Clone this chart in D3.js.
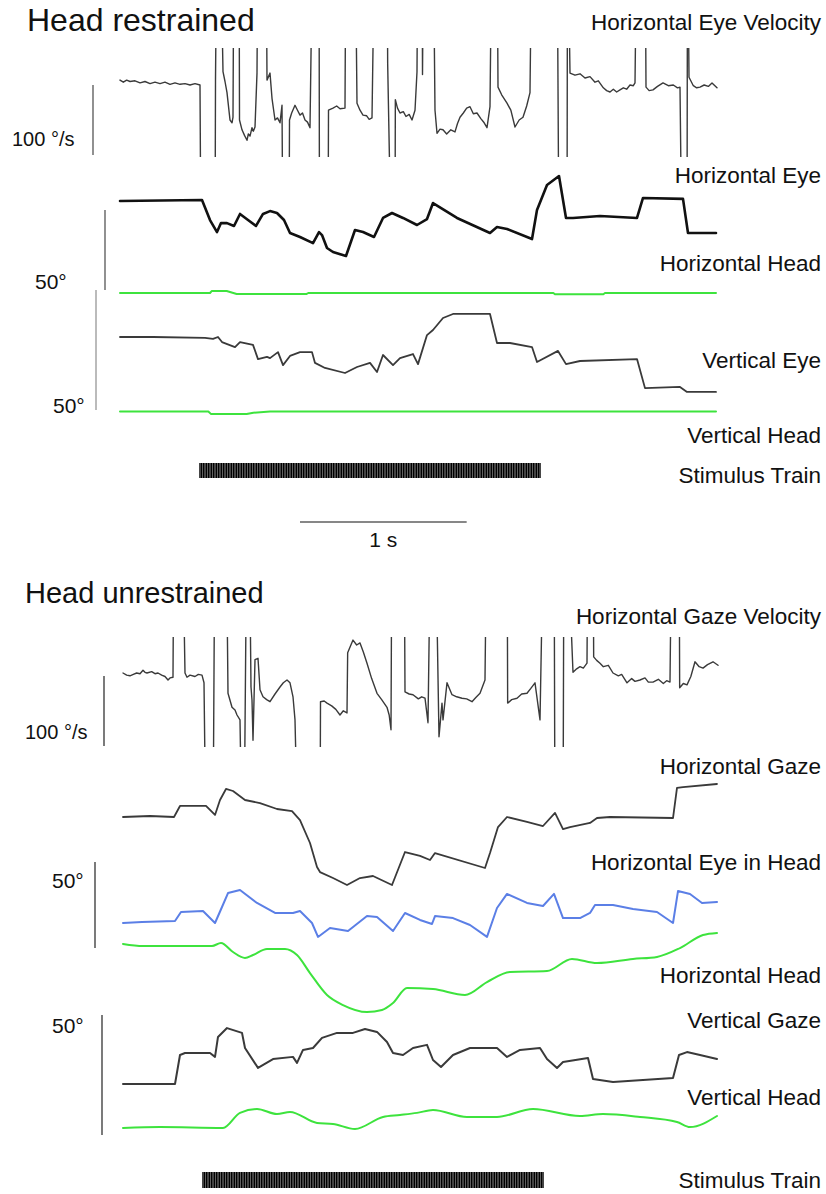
<!DOCTYPE html>
<html><head><meta charset="utf-8">
<script src="https://cdn.jsdelivr.net/npm/d3@7"></script>
<style>
body{margin:0;background:#fff}
svg{display:block}
text{font-family:"Liberation Sans",Arial,Helvetica,sans-serif;fill:#111}
</style>
</head><body>
<script>
// ---- Recorded traces: [time (ms), value] ----
// Head restrained
const hEyeVelRestrained = [[0,7],[20,4],[40,7],[60,5],[90,6],[120,3],[150,5],[180,2],[210,4],[240,2],[270,4],[300,1],[330,3],[360,1],[390,2],[420,0],[450,2],[480,0],[486,-250],[570,-250],[573,7],[582,250],[600,250],[618,19],[630,5],[642,-11],[660,-50],[672,-54],[678,-46],[684,250],[714,250],[717,-50],[732,-64],[747,-72],[762,-79],[770,-70],[780,-73],[792,-61],[800,-66],[810,-60],[822,17],[828,250],[876,250],[882,7],[900,17],[912,-19],[930,-50],[945,-47],[960,-54],[972,-29],[978,-250],[1014,-250],[1017,-50],[1030,-40],[1050,-29],[1065,-36],[1080,-43],[1095,-40],[1110,-50],[1125,-53],[1140,-61],[1158,250],[1194,250],[1197,-250],[1248,-250],[1251,-36],[1278,-33],[1300,-30],[1320,-34],[1350,-33],[1356,250],[1410,250],[1422,-26],[1440,-36],[1458,-43],[1480,-44],[1495,-49],[1512,-47],[1530,250],[1602,250],[1606,31],[1628,-250],[1650,-250],[1652,-21],[1665,-33],[1680,-40],[1700,-38],[1716,-45],[1735,-42],[1752,-50],[1770,-36],[1782,19],[1788,250],[1812,250],[1815,15],[1822,250],[1878,250],[1890,-36],[1902,-69],[1920,-63],[1938,-64],[1960,-70],[1985,-64],[2010,-67],[2025,-55],[2040,-46],[2060,-40],[2080,-33],[2100,-31],[2120,-41],[2142,-40],[2165,-48],[2185,-54],[2202,-61],[2220,-31],[2232,250],[2262,250],[2268,-3],[2290,-14],[2322,-26],[2345,-36],[2370,-60],[2395,-50],[2418,-46],[2440,-30],[2460,-11],[2472,250],[2622,250],[2634,-250],[2682,-250],[2685,250],[2700,17],[2730,14],[2760,16],[2790,10],[2820,12],[2850,4],[2870,6],[2900,-4],[2920,-8],[2940,-10],[2960,-6],[2980,-10],[3000,-7],[3020,-4],[3040,-6],[3060,0],[3080,-1],[3090,3],[3102,250],[3150,250],[3156,-3],[3175,-8],[3198,-7],[3225,-2],[3258,3],[3290,-1],[3320,0],[3345,-4],[3360,-3],[3372,-250],[3402,-250],[3405,250],[3414,11],[3440,-1],[3460,-4],[3480,-3],[3505,0],[3530,-2],[3552,3],[3582,-4]];
const hEyeRestrained = [[0,0],[492,0.6],[540,-11.9],[582,-19.4],[606,-13.8],[642,-13.8],[684,-15.6],[720,-8.1],[768,-11.9],[816,-15.6],[858,-8.1],[900,-6.3],[942,-7.5],[984,-11.9],[1020,-20],[1080,-22.5],[1158,-26.3],[1194,-19.4],[1212,-21.3],[1242,-29.4],[1278,-31.9],[1356,-34.4],[1410,-18.1],[1458,-19.4],[1524,-22.5],[1578,-10.6],[1632,-7.5],[1698,-10.6],[1782,-15],[1842,-11.3],[1878,-1.3],[2022,-10.6],[2220,-20],[2262,-16.3],[2322,-17.5],[2472,-23.8],[2502,-5.6],[2562,10],[2634,15.6],[2676,-10.6],[2718,-10.6],[2880,-9.4],[3102,-10.6],[3138,1.9],[3378,1.3],[3408,-20],[3576,-20]];
const hHeadRestrained = [[0,0],[540,0],[550,1.2],[640,1.2],[700,-0.6],[1120,-0.6],[1130,0],[2600,0],[2610,-0.8],[2900,-0.8],[2910,0],[3576,0]];
const vEyeRestrained = [[0,0],[198,0],[510,-0.4],[558,-0.8],[588,0],[612,-2.1],[690,-4.2],[720,-2.1],[798,-3.3],[828,-9.2],[882,-8.3],[900,-8.8],[948,-6.3],[978,-11.7],[1020,-7.9],[1080,-6.3],[1152,-6.3],[1170,-10.8],[1230,-12.9],[1350,-15],[1422,-12.5],[1500,-10.8],[1542,-14.6],[1578,-7.5],[1638,-11.7],[1680,-8.8],[1758,-7.1],[1788,-11.3],[1842,0.8],[1878,2.9],[1938,7.9],[1998,9.6],[2220,9.6],[2262,-2.5],[2340,-2.5],[2472,-4.2],[2502,-10.4],[2628,-5.8],[2676,-11.3],[2760,-10],[3102,-9.2],[3150,-21.3],[3360,-20.8],[3402,-22.9],[3576,-22.9]];
const vHeadRestrained = [[0,0],[530,0],[545,-1],[760,-1],[800,-0.5],[900,0],[3576,0]];

// Head unrestrained
const hGazeVelUnrestrained = [[18,0],[40,-3],[60,-4],[80,-2],[100,0],[120,-1],[138,4],[150,1],[162,0],[190,2],[210,-1],[228,0],[250,-3],[270,-5],[288,-10],[300,-7],[318,-6],[324,250],[372,250],[390,0],[402,-6],[420,-3],[450,-5],[470,-2],[492,-3],[504,-14],[516,-250],[558,-250],[570,250],[636,250],[648,-29],[672,-49],[690,-53],[702,-60],[720,-67],[732,-250],[744,-250],[762,250],[774,250],[786,-20],[792,-39],[798,-96],[810,19],[828,21],[840,-24],[858,-34],[880,-38],[900,-41],[930,-30],[960,-20],[980,-14],[1002,-10],[1020,-14],[1038,-34],[1050,-67],[1068,-250],[1200,-250],[1203,-41],[1225,-40],[1242,-43],[1270,-47],[1295,-52],[1320,-60],[1340,-54],[1362,-57],[1366,29],[1398,47],[1420,40],[1440,43],[1460,30],[1482,14],[1510,-8],[1542,-29],[1570,-38],[1602,-49],[1615,-60],[1626,-81],[1632,250],[1704,250],[1710,-27],[1735,-30],[1758,-31],[1790,-37],[1810,-34],[1830,-36],[1848,-71],[1866,250],[1890,250],[1914,-91],[1932,-43],[1938,-67],[1962,-14],[1992,-31],[2020,-34],[2052,-36],[2080,-37],[2112,-41],[2135,-35],[2160,-29],[2190,-10],[2202,250],[2322,250],[2326,-43],[2350,-38],[2382,-36],[2410,-30],[2442,-29],[2465,-22],[2490,-14],[2520,-67],[2544,250],[2604,250],[2610,-250],[2658,-250],[2664,250],[2676,250],[2718,1],[2740,6],[2760,9],[2780,7],[2802,14],[2808,250],[2838,250],[2842,23],[2860,18],[2880,14],[2900,9],[2930,11],[2958,0],[2990,-4],[3010,-2],[3042,-14],[3070,-8],[3090,-12],[3120,-10],[3150,-7],[3170,-13],[3198,-13],[3230,-9],[3260,-15],[3280,-11],[3300,-13],[3312,250],[3354,250],[3358,-21],[3380,-15],[3402,-17],[3425,-5],[3450,16],[3475,9],[3498,7],[3525,12],[3558,16],[3588,11]];
const hGazeUnrestrained = [[18,0],[180,0.6],[324,0],[360,6.5],[516,6.5],[570,1.2],[600,10],[636,16.5],[678,15.3],[750,10],[840,8.2],[942,4.7],[1032,3.5],[1080,-1.8],[1140,-15.3],[1182,-29.4],[1200,-32.4],[1278,-35.9],[1362,-40],[1440,-35.9],[1518,-34.7],[1632,-40],[1710,-20.6],[1800,-22.9],[1860,-25.3],[1890,-21.2],[2190,-30],[2220,-21.2],[2268,-5.9],[2322,0],[2442,-2.9],[2538,-5.3],[2610,2.4],[2658,-7.1],[2700,-5.9],[2820,-3.5],[2862,-0.6],[2940,0],[3318,-0.6],[3342,17.1],[3378,17.6],[3582,19.4]];
const hEyeInHeadUnrestrained = [[18,0],[132,0.6],[330,1.2],[366,6.5],[498,7.1],[570,0],[612,9.4],[648,17.6],[720,19.4],[822,11.8],[930,5.9],[1038,5.9],[1080,7.1],[1152,0],[1188,-8.2],[1260,-2.9],[1368,-4.7],[1482,4.1],[1542,3.5],[1638,-4.7],[1710,5.9],[1800,1.8],[1872,-0.6],[1890,4.1],[1998,2.9],[2100,-1.2],[2202,-8.2],[2262,8.8],[2322,17.1],[2442,11.8],[2538,10],[2604,17.1],[2658,2.9],[2760,2.9],[2820,5.9],[2850,10.6],[2958,10.6],[3078,8.2],[3222,6.5],[3318,0],[3348,18.8],[3420,17.1],[3492,11.8],[3582,12.4]];
const hHeadUnrestrained = [[18,0],[138,-1.2],[552,-1.2],[606,0.6],[678,-4.7],[750,-8.2],[798,-6.5],[882,-2.9],[990,-2.9],[1062,-6.5],[1140,-17.1],[1242,-30],[1338,-35.9],[1482,-40],[1572,-38.8],[1638,-34.7],[1722,-25.9],[1878,-26.5],[2070,-30],[2202,-22.4],[2340,-16.5],[2562,-15.9],[2712,-8.8],[2862,-11.2],[3078,-8.8],[3222,-7.6],[3360,-2.4],[3498,5.3],[3582,6.5]];
const vGazeUnrestrained = [[18,0],[330,0],[360,12.1],[390,12.9],[540,12.9],[570,11.3],[588,19.6],[642,23.3],[732,21.3],[750,15],[828,6.7],[918,10.4],[1038,11.3],[1062,8.8],[1098,14.2],[1158,15],[1212,19.2],[1302,21.3],[1398,21.3],[1470,22.9],[1542,21.7],[1602,17.5],[1638,12.9],[1698,12.1],[1758,15],[1842,16.3],[1878,10],[1926,7.1],[1998,12.1],[2100,15],[2262,15],[2322,11.3],[2400,14.2],[2520,15],[2562,10.4],[2622,6.7],[2658,9.2],[2808,10.8],[2838,2.1],[2958,0.8],[3318,2.5],[3354,12.1],[3402,13.3],[3480,12.1],[3582,10.4]];
const vHeadUnrestrained = [[18,0],[240,0.4],[618,0],[720,6.3],[822,7.9],[942,5.8],[1020,6.7],[1182,2.1],[1278,1.7],[1410,-0.4],[1578,4.6],[1680,5.4],[1782,6.3],[1878,7.5],[2082,4.6],[2262,4.6],[2478,7.9],[2760,5],[2898,5.8],[3120,4.6],[3342,2.5],[3420,0.4],[3582,5]];

// Stimulus trains: onset / offset (ms) and pulse interval (ms)
const stimRestrained = {on: 480, off: 2526};
const stimUnrestrained = {on: 498, off: 2538};
const pulseInterval = 10;

// Trace labels
const labelsRestrained = ["Horizontal Eye Velocity","Horizontal Eye","Horizontal Head","Vertical Eye","Vertical Head","Stimulus Train"];
const labelsUnrestrained = ["Horizontal Gaze Velocity","Horizontal Gaze","Horizontal Eye in Head","Horizontal Head","Vertical Gaze","Vertical Head","Stimulus Train"];

// ---- Drawing ----
const W = 826, H = 1194;
const svg = d3.select("body").append("svg").attr("width", W).attr("height", H);
const x = d3.scaleLinear().domain([0, 3600]).range([120, 720]);

const GREEN = "#3de33d", BLUE = "#5b7fe6", DARK = "#3a3a3a";

function yScale(zero, pxPerUnit) {
  return d3.scaleLinear().domain([0, 100]).range([zero, zero - 100 * pxPerUnit]);
}

let clipId = 0;
function drawTrace(data, y, opts) {
  const line = d3.line().x(d => x(d[0])).y(d => y(d[1])).curve(opts.curve || d3.curveLinear);
  const p = svg.append("path").datum(data)
    .attr("d", line)
    .attr("fill", "none")
    .attr("stroke", opts.color)
    .attr("stroke-width", opts.width)
    .attr("stroke-linejoin", "round")
    .attr("stroke-linecap", "round");
  if (opts.clip) {
    const id = "clip" + (clipId++);
    svg.append("clipPath").attr("id", id).append("rect")
      .attr("x", 0).attr("width", W)
      .attr("y", opts.clip[0]).attr("height", opts.clip[1] - opts.clip[0]);
    p.attr("clip-path", `url(#${id})`);
  }
}

function vBar(xp, y, v0, v1, color, width) {
  svg.append("line").attr("x1", xp).attr("x2", xp)
    .attr("y1", y(v0)).attr("y2", y(v1))
    .attr("stroke", color).attr("stroke-width", width);
}

function text(str, xp, yp, size, anchor) {
  svg.append("text").attr("x", xp).attr("y", yp)
    .attr("font-size", size).attr("text-anchor", anchor || "start").text(str);
}

function stimulus(stim, top, height) {
  const pulses = d3.range(stim.on, stim.off + 0.01, pulseInterval);
  svg.append("g").selectAll("line").data(pulses).join("line")
    .attr("x1", d => x(d)).attr("x2", d => x(d))
    .attr("y1", top).attr("y2", top + height)
    .attr("stroke", "#000").attr("stroke-width", 1.45);
}

const LS = 22.5, LX = 821;

// Head restrained panel
text("Head restrained", 27, 31, 32);
const yVelR = yScale(85, 0.7);
drawTrace(hEyeVelRestrained, yVelR, {color: DARK, width: 1.4, clip: [48, 157]});
const yHER = yScale(201, 1.6);
drawTrace(hEyeRestrained, yHER, {color: "#111", width: 2.6});
const yHHR = yScale(293, 1.6);
drawTrace(hHeadRestrained, yHHR, {color: GREEN, width: 2});
const yVER = yScale(337, 2.4);
drawTrace(vEyeRestrained, yVER, {color: DARK, width: 1.8});
const yVHR = yScale(411.5, 2.4);
drawTrace(vHeadRestrained, yVHR, {color: GREEN, width: 2});
stimulus(stimRestrained, 463, 15);

// scale bars
vBar(93, yScale(155, 0.7), 0, 100, "#555", 1.3);
text("100 °/s", 12, 146, 20);
vBar(105, yScale(290, 1.6), 0, 50, "#555", 1.3);
text("50°", 35, 289, 21);
vBar(96, yScale(410, 2.4), 0, 50, "#bbb", 2);
text("50°", 53, 413, 21);
svg.append("line").attr("x1", x(1080)).attr("x2", x(2080)).attr("y1", 522).attr("y2", 522)
  .attr("stroke", "#111").attr("stroke-width", 1.2);
text("1 s", (x(1080) + x(2080)) / 2, 547, 21, "middle");

[30, 183, 271, 368, 443, 483].forEach((yy, i) => text(labelsRestrained[i], LX, yy, LS, "end"));

// Head unrestrained panel
text("Head unrestrained", 25, 603, 29);
const yVelU = yScale(673, 0.7);
drawTrace(hGazeVelUnrestrained, yVelU, {color: DARK, width: 1.4, clip: [637, 747]});
const yHGU = yScale(817, 1.7);
drawTrace(hGazeUnrestrained, yHGU, {color: DARK, width: 1.8});
const yHEU = yScale(923, 1.7);
drawTrace(hEyeInHeadUnrestrained, yHEU, {color: BLUE, width: 2});
const yHHU = yScale(944, 1.7);
drawTrace(hHeadUnrestrained, yHHU, {color: GREEN, width: 2, curve: d3.curveMonotoneX});
const yVGU = yScale(1084, 2.4);
drawTrace(vGazeUnrestrained, yVGU, {color: DARK, width: 2});
const yVHU = yScale(1128, 2.4);
drawTrace(vHeadUnrestrained, yVHU, {color: GREEN, width: 2, curve: d3.curveMonotoneX});
stimulus(stimUnrestrained, 1172, 16);

vBar(104, yScale(746, 0.7), 0, 100, "#333", 1.3);
text("100 °/s", 25, 739, 20);
vBar(95, yScale(948, 1.72), 0, 50, "#333", 1.3);
text("50°", 52, 888, 21);
vBar(102, yScale(1135, 2.4), 0, 50, "#333", 1.3);
text("50°", 52, 1033, 21);

[624, 774, 870, 983, 1028, 1105, 1188].forEach((yy, i) => text(labelsUnrestrained[i], LX, yy, LS, "end"));
</script>
</body></html>
